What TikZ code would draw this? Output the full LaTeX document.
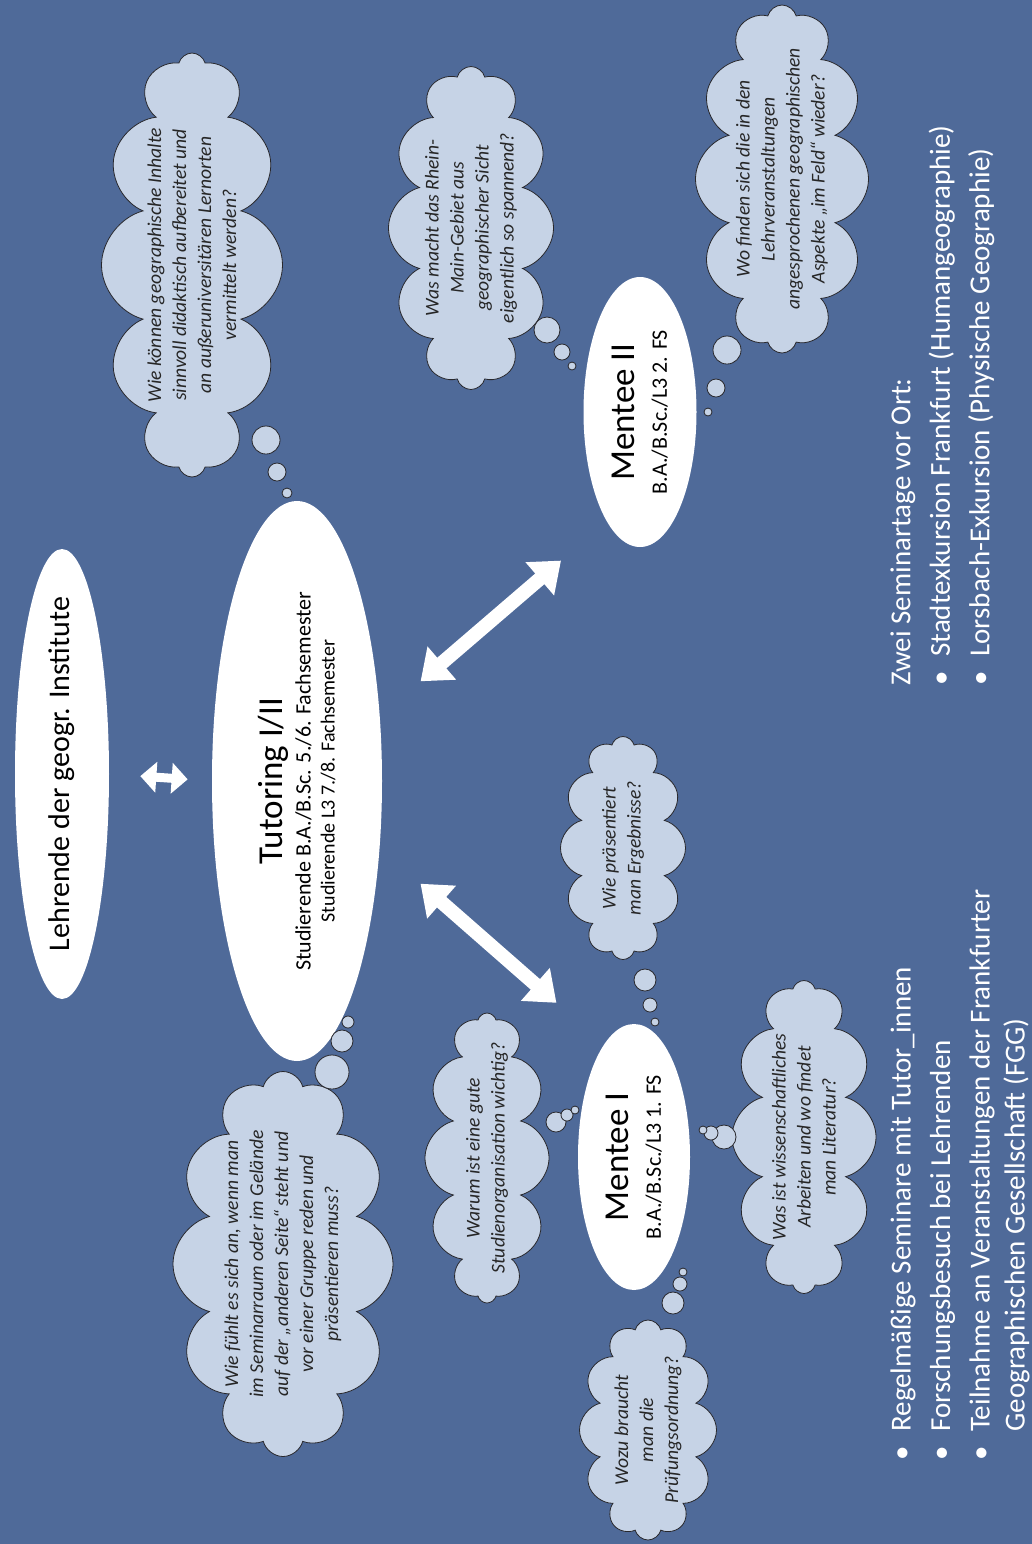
\documentclass[tikz,border=0pt]{standalone}
\usepackage{fontspec}
\setmainfont{Carlito}
\usetikzlibrary{shapes,arrows.meta}

\definecolor{fond}{RGB}{79,106,153}
\definecolor{nuage}{RGB}{198,211,230}
\definecolor{contour}{RGB}{40,40,45}

\begin{document}
\begin{tikzpicture}[x=0.5pt,y=-0.5pt]
 % style des noeuds
  \tikzstyle{oval}=[ellipse,fill=white,inner sep=0pt,rotate=90,align=center]
  \tikzstyle{pensee}=[cloud,cloud puffs=12,cloud ignores aspect,draw=contour,line width=0.4pt,fill=nuage,rotate=90,inner xsep=-14pt,inner ysep=-6pt,align=center,text=black!85,font=\fontsize{9.8}{12.5}\selectfont\itshape]
  \tikzstyle{bulle}=[draw=contour,line width=0.4pt,fill=nuage]
  \tikzstyle{liste}=[rotate=90,align=left,inner sep=0pt,text=white,font=\fontsize{14.5}{19.75}\selectfont]
 % style des fleches
  \tikzstyle{lien}=[draw=white,line width=7pt,{Triangle[length=14pt,width=21pt]}-{Triangle[length=14pt,width=21pt]}]
 % fond
  \fill[fond] (0,0) rectangle (1032,1544);
  \useasboundingbox (0,0) rectangle (1032,1544);
 % placement des ellipses
  \node[oval,minimum width=225pt,minimum height=47pt,inner xsep=-12pt,font=\fontsize{15}{18}\selectfont] (lehrende) at (62,774) {Lehrende der geogr. Institute};
  \node[oval,minimum width=280pt,minimum height=85pt] (tutor) at (297,781)
    {{\fontsize{17.5}{20}\selectfont Tutoring I/II}\\[2pt]\fontsize{11}{15}\selectfont Studierende B.A./B.Sc. 5./6. Fachsemester\\ Studierende L3 7./8. Fachsemester};
  \node[oval,minimum width=133pt,minimum height=56pt] (mentee1) at (634,1157)
    {{\fontsize{17.5}{20}\selectfont Mentee I}\\[4pt]\fontsize{11}{14}\selectfont B.A./B.Sc./L3 1. FS};
  \node[oval,minimum width=135pt,minimum height=56.5pt] (mentee2) at (640,412)
    {{\fontsize{17.5}{20}\selectfont Mentee II}\\[4pt]\fontsize{11}{14}\selectfont B.A./B.Sc./L3 2. FS};
 % placement des nuages
  \node[pensee,minimum width=212pt,minimum height=90.5pt] (inhalte) at (192,265)
    {Wie können geographische Inhalte\\ sinnvoll didaktisch aufbereitet und\\ an außeruniversitären Lernorten\\ vermittelt werden?};
  \node[pensee,minimum width=161.5pt,minimum height=82.5pt] (rheinmain) at (471,228)
    {Was macht das Rhein-\\ Main-Gebiet aus\\ geographischer Sicht\\ eigentlich so spannend?};
  \node[pensee,minimum width=174pt,minimum height=86.5pt] (imfeld) at (782,179)
    {Wo finden sich die in den\\ Lehrveranstaltungen\\ angesprochenen geographischen\\ Aspekte „im Feld“ wieder?};
  \node[pensee,minimum width=192.5pt,minimum height=110pt] (andereseite) at (283,1264)
    {Wie fühlt es sich an, wenn man\\ im Seminarraum oder im Gelände\\ auf der „anderen Seite“ steht und\\ vor einer Gruppe reden und\\ präsentieren muss?};
  \node[pensee,minimum width=145pt,minimum height=62pt] (studienorg) at (487,1158)
    {Warum ist eine gute\\ Studienorganisation wichtig?};
  \node[pensee,minimum width=111.5pt,minimum height=62.5pt] (ergebnisse) at (623,848)
    {Wie präsentiert\\ man Ergebnisse?};
  \node[pensee,minimum width=110pt,minimum height=68.5pt] (pruefung) at (648,1430)
    {Wozu braucht\\ man die\\ Prüfungsordnung?};
  \node[pensee,minimum width=156.5pt,minimum height=72pt] (literatur) at (804,1137)
    {Was ist wissenschaftliches\\ Arbeiten und wo findet\\ man Literatur?};
 % bulles de pensee
  \foreach \x/\y/\r in {266/440/14,277/472/9,287/493/5,
                        547/330/13,562/352/8,572/366/4,
                        727/350/14,716/388/9,708/412/4,
                        332/1072/17,342/1041/11,348/1022/6,
                        556/1122/10,567/1115/6,575/1110/4,
                        645/980/11,650/1005/7,655/1022/4,
                        673/1303/11,680/1284/7,683/1272/4,
                        724/1137/12,711/1133/7,703/1130/4}
    \draw[bulle] (\x,\y) circle[radius=\r];
 % textes
  \node[liste,anchor=north west] (rencontres) at (890,1461)
    {\makebox[14.5pt][l]{\textbullet}Regelmäßige Seminare mit Tutor\_innen\\
     \makebox[14.5pt][l]{\textbullet}Forschungsbesuch bei Lehrenden\\
     \makebox[14.5pt][l]{\textbullet}Teilnahme an Veranstaltungen der Frankfurter\\[-2.25pt]
     \makebox[14.5pt][l]{}Geographischen Gesellschaft (FGG)};
  \node[liste,anchor=north west] (vorort) at (890,686)
    {Zwei Seminartage vor Ort:\\
     \makebox[14.5pt][l]{\textbullet}Stadtexkursion Frankfurt (Humangeographie)\\
     \makebox[14.5pt][l]{\textbullet}Lorsbach-Exkursion (Physische Geographie)};
 % placement des fleches
  \draw[lien,line width=4.5pt,{Triangle[length=8pt,width=15pt]}-{Triangle[length=8pt,width=15pt]},shorten <=15.5pt,shorten >=12pt] (lehrende.south) -- (tutor.north);
  \draw[lien,shorten <=27pt,shorten >=31.5pt] (tutor.231) -- (mentee1.15);
  \draw[lien,shorten <=26.7pt,shorten >=30pt] (tutor.308) -- (mentee2.163);
\end{tikzpicture}
\end{document}
